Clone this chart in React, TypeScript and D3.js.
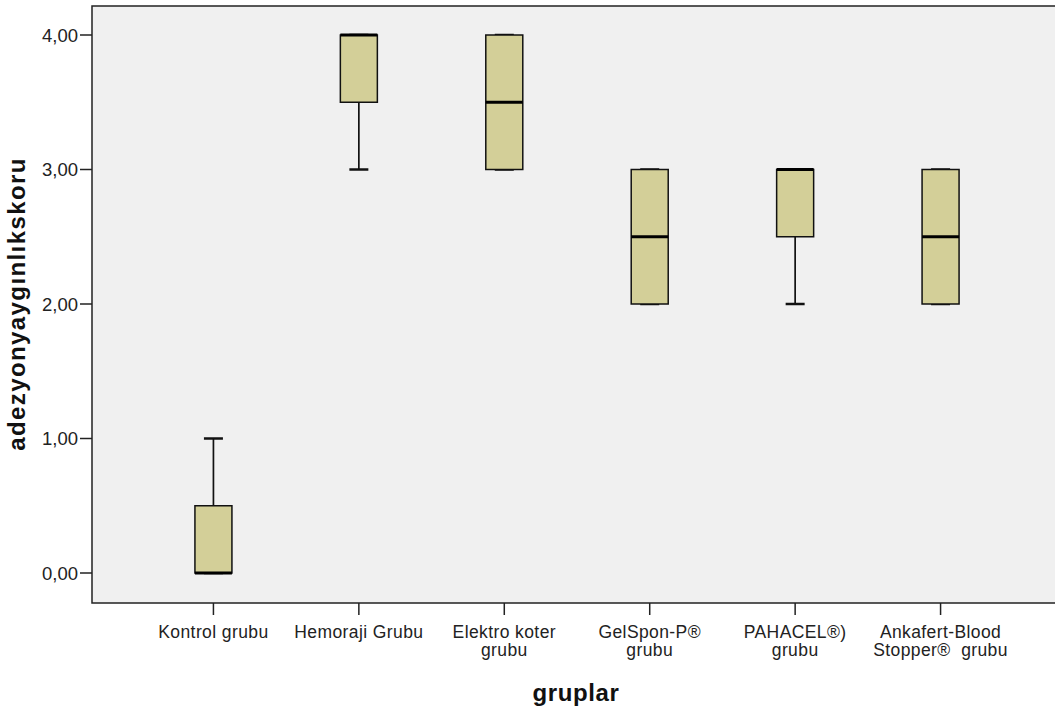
import React, { useRef, useEffect } from 'react'
import * as d3 from 'd3'

const groups = [
  ['Kontrol grubu'],
  ['Hemoraji Grubu'],
  ['Elektro koter', 'grubu'],
  ['GelSpon-P®', 'grubu'],
  ['PAHACEL®)', 'grubu'],
  ['Ankafert-Blood', 'Stopper®\u00a0 grubu'],
]
const mins = [0, 3, 3, 2, 2, 2]
const q1s = [0, 3.5, 3, 2, 2.5, 2]
const medians = [0, 4, 3.5, 2.5, 3, 2.5]
const q3s = [0.5, 4, 4, 3, 3, 3]
const maxs = [1, 4, 4, 3, 3, 3]
const yTicks = [0, 1, 2, 3, 4]

export default function App() {
  const svgRef = useRef<SVGSVGElement>(null)

  useEffect(() => {
    const width = 1055
    const height = 716
    const left = 92
    const top = 6
    const bottom = 603

    const svg = d3.select(svgRef.current)
    svg.selectAll('*').remove()
    svg.attr('viewBox', `0 0 ${width} ${height}`)

    const keys = groups.map(g => g.join(' '))
    const x = d3.scalePoint<string>()
      .domain(keys)
      .range([left, 1062])
      .padding(0.835)

    const y = d3.scaleLinear()
      .domain([0, 4])
      .range([573, 35])

    svg.append('rect')
      .attr('x', left).attr('y', top)
      .attr('width', width - left).attr('height', bottom - top)
      .attr('fill', '#f0f0f0')

    const font = '"Liberation Sans", Arial, sans-serif'

    // y axis ticks
    const yg = svg.append('g')
    yTicks.forEach(t => {
      yg.append('line')
        .attr('x1', left - 12).attr('x2', left)
        .attr('y1', y(t)).attr('y2', y(t))
        .attr('stroke', '#222').attr('stroke-width', 1.5)
      yg.append('text')
        .attr('x', left - 14).attr('y', y(t) + 6.5)
        .attr('text-anchor', 'end')
        .attr('font-family', font).attr('font-size', 18.5)
        .attr('fill', '#222')
        .text(d3.format('.2f')(t).replace('.', ','))
    })

    // x axis ticks and labels
    groups.forEach((g, i) => {
      const cx = x(keys[i])!
      svg.append('line')
        .attr('x1', cx).attr('x2', cx)
        .attr('y1', bottom).attr('y2', bottom + 12)
        .attr('stroke', '#222').attr('stroke-width', 1.5)
      g.forEach((line, j) => {
        svg.append('text')
          .attr('x', cx).attr('y', 638 + j * 18)
          .attr('text-anchor', 'middle')
          .attr('font-family', font).attr('font-size', 17.5)
          .attr('letter-spacing', 0.4)
          .attr('fill', '#222')
          .text(line)
      })
    })

    // boxes
    const bw = 37
    const cap = 19
    groups.forEach((_, i) => {
      const cx = x(keys[i])!
      const bg = svg.append('g')
      bg.append('line')
        .attr('x1', cx).attr('x2', cx)
        .attr('y1', y(maxs[i])).attr('y2', y(mins[i]))
        .attr('stroke', '#111').attr('stroke-width', 1.7)
      ;[mins[i], maxs[i]].forEach(v => {
        bg.append('line')
          .attr('x1', cx - cap / 2).attr('x2', cx + cap / 2)
          .attr('y1', y(v)).attr('y2', y(v))
          .attr('stroke', '#111').attr('stroke-width', 2.5)
      })
      bg.append('rect')
        .attr('x', cx - bw / 2).attr('y', y(q3s[i]))
        .attr('width', bw).attr('height', y(q1s[i]) - y(q3s[i]))
        .attr('fill', '#d3cf98')
        .attr('stroke', '#111').attr('stroke-width', 1.5)
      bg.append('line')
        .attr('x1', cx - bw / 2).attr('x2', cx + bw / 2)
        .attr('y1', y(medians[i])).attr('y2', y(medians[i]))
        .attr('stroke', '#000').attr('stroke-width', 3)
    })

    // frame
    svg.append('path')
      .attr('d', `M${width},${top}H${left}V${bottom}H${width}`)
      .attr('fill', 'none')
      .attr('stroke', '#222').attr('stroke-width', 1.5)

    svg.append('text')
      .attr('transform', `translate(25,304) rotate(-90)`)
      .attr('text-anchor', 'middle')
      .attr('font-family', font).attr('font-size', 24)
      .attr('font-weight', 'bold')
      .attr('letter-spacing', 1.4)
      .attr('fill', '#111')
      .text('adezyonyaygınlıkskoru')

    svg.append('text')
      .attr('x', 576).attr('y', 701)
      .attr('text-anchor', 'middle')
      .attr('font-family', font).attr('font-size', 24)
      .attr('font-weight', 'bold')
      .attr('letter-spacing', 0.6)
      .attr('fill', '#111')
      .text('gruplar')
  }, [])

  return (
    <svg
      ref={svgRef}
      width={1055}
      height={716}
      style={{ position: 'absolute', left: 0, top: 0, background: '#fff' }}
    />
  )
}
